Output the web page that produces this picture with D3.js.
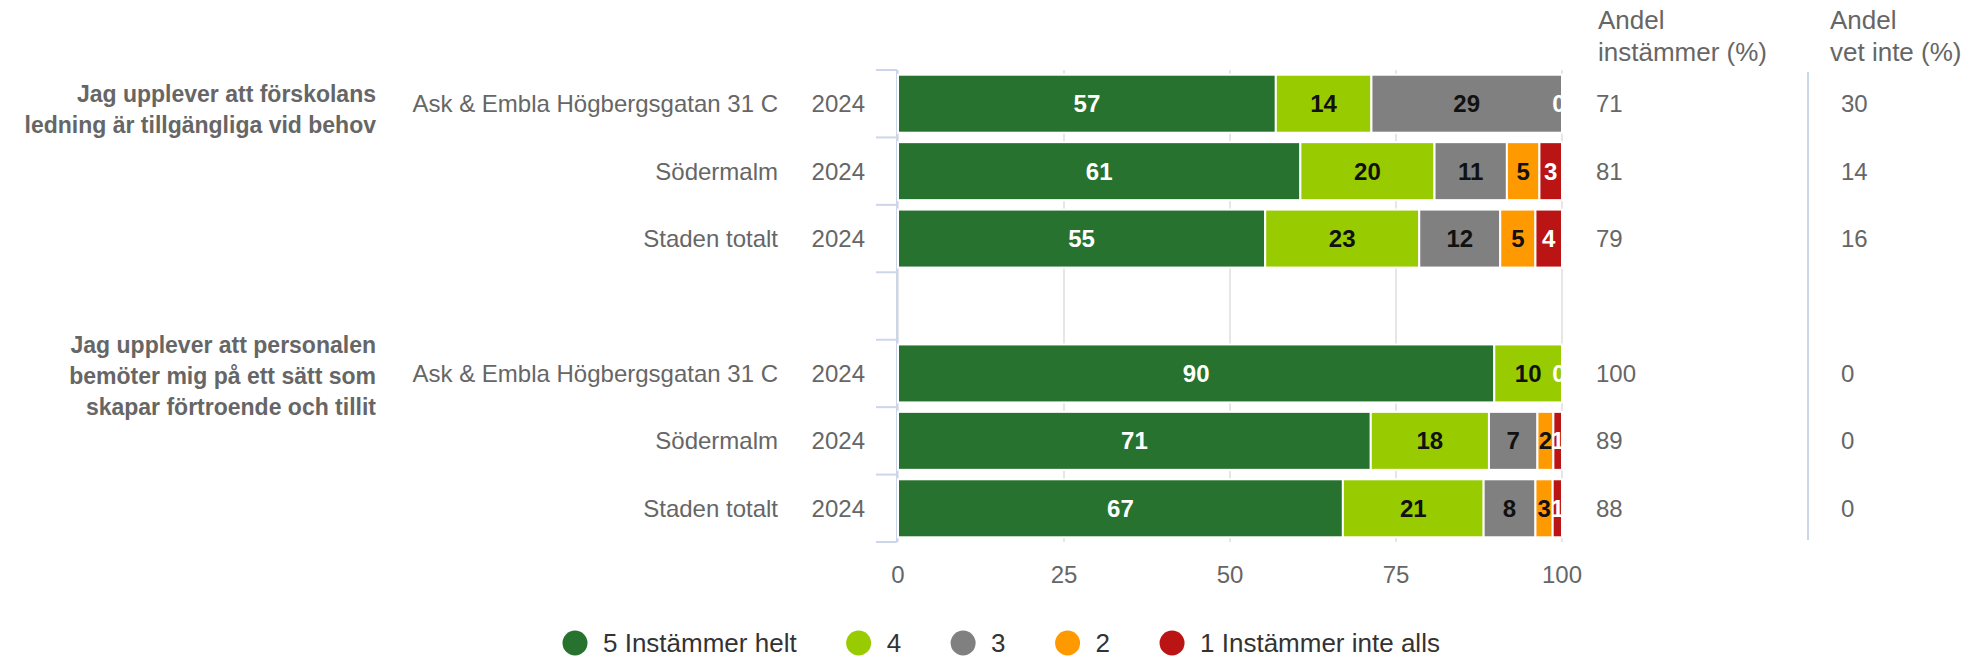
<!DOCTYPE html>
<html>
<head>
<meta charset="utf-8">
<script src="https://cdn.jsdelivr.net/npm/d3@7"></script>
<style>
  body { margin: 0; background: #fff; }
  svg { display: block; font-family: "Liberation Sans", Arial, sans-serif; }
</style>
</head>
<body>
<div id="chart"></div>
<script>

// questions (row groups) and the units shown for each question
var questions = [
    ["Jag upplever att förskolans", "ledning är tillgängliga vid behov"],
    ["Jag upplever att personalen", "bemöter mig på ett sätt som", "skapar förtroende och tillit"]
];
var units = ["Ask & Embla Högbergsgatan 31 C", "Södermalm", "Staden totalt"];
var years = ["2024", "2024", "2024", "2024", "2024", "2024"];

var seriesNames = ["5 Instämmer helt", "4", "3", "2", "1 Instämmer inte alls"];

// share (%) per answer, one value per row (q1 x 3 units, then q2 x 3 units)
var svar5 = [56.9, 60.6, 55.3, 89.8, 71.2, 67.0];
var svar4 = [14.4, 20.2, 23.2, 10.2, 17.8, 21.2];
var svar3 = [28.7, 10.9, 12.2, 0, 7.3, 7.8];
var svar2 = [0, 4.9, 5.3, 0, 2.4, 2.6];
var svar1 = [0, 3.4, 4.0, 0, 1.3, 1.4];

var andelInstammer = [71, 81, 79, 100, 89, 88];
var andelVetInte = [30, 14, 16, 0, 0, 0];

var xTicks = [0, 25, 50, 75, 100];

var colors = ["#26722e", "#99cc00", "#808080", "#ff9900", "#bb1414"];
var labelColors = ["#ffffff", "#111111", "#111111", "#111111", "#ffffff"];

var W = 1972, H = 660;
var plotLeft = 898, plotRight = 1562, plotTop = 70, plotBottom = 542;

var svg = d3.select("#chart").append("svg")
    .attr("width", W)
    .attr("height", H);

// row ids, with an empty band between the two questions
var rowIds = [];
questions.forEach(function(q, qi){
    if(qi > 0) rowIds.push("gap" + qi);
    units.forEach(function(u, ui){ rowIds.push("r" + qi + "_" + ui); });
});

var x = d3.scaleLinear().domain([0, 100]).range([plotLeft, plotRight]);
var y = d3.scaleBand().domain(rowIds).range([plotTop, plotBottom])
    .paddingInner(0.14).paddingOuter(0.07);
var step = y.step();

function rowId(i){ return "r" + Math.floor(i / 3) + "_" + (i % 3); }

// gridlines
svg.append("g").selectAll("line")
    .data(xTicks)
    .enter().append("line")
    .attr("x1", function(d){ return x(d); })
    .attr("x2", function(d){ return x(d); })
    .attr("y1", plotTop)
    .attr("y2", plotBottom)
    .style("stroke", "#e6e6e6")
    .style("stroke-width", 2);

// x axis labels
svg.append("g").selectAll("text")
    .data(xTicks)
    .enter().append("text")
    .attr("x", function(d){ return x(d); })
    .attr("y", 575)
    .attr("dy", "0.35em")
    .attr("text-anchor", "middle")
    .style("font-size", "24px")
    .style("fill", "#666666")
    .text(function(d){ return d; });

// category axis line and band ticks
var bounds = rowIds.map(function(id){ return y(id) - step * y.paddingInner() / 2; });
bounds.push(plotBottom);
bounds[0] = plotTop;
svg.append("line")
    .attr("x1", plotLeft - 1).attr("x2", plotLeft - 1)
    .attr("y1", plotTop).attr("y2", plotBottom)
    .style("stroke", "#ccd6eb").style("stroke-width", 2);
svg.append("g").selectAll("line")
    .data(bounds)
    .enter().append("line")
    .attr("x1", plotLeft - 22).attr("x2", plotLeft - 1)
    .attr("y1", function(d){ return d; })
    .attr("y2", function(d){ return d; })
    .style("stroke", "#ccd6eb").style("stroke-width", 2);

// stacked bars
var series = [svar5, svar4, svar3, svar2, svar1];
var rows = years.map(function(yr, i){
    var x0 = 0;
    return series.map(function(s, si){
        var seg = {row: i, si: si, v: s[i], x0: x0, x1: x0 + s[i]};
        x0 += s[i];
        return seg;
    });
});

svg.append("clipPath").attr("id", "plotClip")
    .append("rect")
    .attr("x", plotLeft).attr("y", 0)
    .attr("width", plotRight - plotLeft + 1).attr("height", H);

var bars = svg.append("g");
var labels = svg.append("g").attr("clip-path", "url(#plotClip)");

rows.forEach(function(segs){
    segs.forEach(function(seg){
        var yy = y(rowId(seg.row));
        if(seg.v > 0){
            bars.append("rect")
                .attr("x", x(seg.x0))
                .attr("y", yy)
                .attr("width", x(seg.x1) - x(seg.x0))
                .attr("height", y.bandwidth())
                .style("fill", colors[seg.si])
                .style("stroke", "#ffffff")
                .style("stroke-width", 2);
        }
        // zero segments pile up at the end, only the last one shows its label
        if(seg.v == 0 && seg.si != series.length - 1) return;
        labels.append("text")
            .attr("x", seg.v == 0 ? x(seg.x0) - 3 : (x(seg.x0) + x(seg.x1)) / 2)
            .attr("y", yy + y.bandwidth() / 2)
            .attr("dy", "0.36em")
            .attr("text-anchor", "middle")
            .style("font-size", "24px")
            .style("font-weight", "bold")
            .style("fill", labelColors[seg.si])
            .text(Math.round(seg.v));
    });
});

// unit and year labels
years.forEach(function(yr, i){
    var cy = y(rowId(i)) + y.bandwidth() / 2;
    svg.append("text")
        .attr("x", 778).attr("y", cy).attr("dy", "0.35em")
        .attr("text-anchor", "end")
        .style("font-size", "24px").style("fill", "#666666")
        .text(units[i % 3]);
    svg.append("text")
        .attr("x", 865).attr("y", cy).attr("dy", "0.35em")
        .attr("text-anchor", "end")
        .style("font-size", "24px").style("fill", "#666666")
        .text(yr);
    svg.append("text")
        .attr("x", 1596).attr("y", cy).attr("dy", "0.35em")
        .style("font-size", "24px").style("fill", "#666666")
        .text(andelInstammer[i]);
    svg.append("text")
        .attr("x", 1841).attr("y", cy).attr("dy", "0.35em")
        .style("font-size", "24px").style("fill", "#666666")
        .text(andelVetInte[i]);
});

// question labels, centered on the first unit of each group
questions.forEach(function(q, qi){
    var cy = y("r" + qi + "_0") + y.bandwidth() / 2 + (qi == 0 ? 6 : 3);
    var lh = 31;
    var t = svg.append("text")
        .attr("text-anchor", "end")
        .style("font-size", "23px").style("font-weight", "bold")
        .style("fill", "#666666");
    q.forEach(function(line, li){
        t.append("tspan")
            .attr("x", 376)
            .attr("y", cy + (li - (q.length - 1) / 2) * lh)
            .attr("dy", "0.35em")
            .text(line);
    });
});

// column headers
var headers = [["Andel", "instämmer (%)"], ["Andel", "vet inte (%)"]];
var headerX = [1598, 1830];
headers.forEach(function(h, hi){
    h.forEach(function(line, li){
        svg.append("text")
            .attr("x", headerX[hi]).attr("y", 20 + li * 32).attr("dy", "0.35em")
            .style("font-size", "26px").style("fill", "#666666")
            .text(line);
    });
});

// separator before second column
svg.append("line")
    .attr("x1", 1808).attr("x2", 1808)
    .attr("y1", 72).attr("y2", 540)
    .style("stroke", "#ccd6eb").style("stroke-width", 2);

// legend
var legend = svg.append("g");
var lx = 575;
seriesNames.forEach(function(name, i){
    legend.append("circle")
        .attr("cx", lx).attr("cy", 643).attr("r", 12.5)
        .style("fill", colors[i]);
    var t = legend.append("text")
        .attr("x", lx + 28).attr("y", 643).attr("dy", "0.35em")
        .style("font-size", "26px").style("fill", "#333333")
        .text(name);
    lx += 28 + t.node().getComputedTextLength() + 62;
});

</script>
</body>
</html>
